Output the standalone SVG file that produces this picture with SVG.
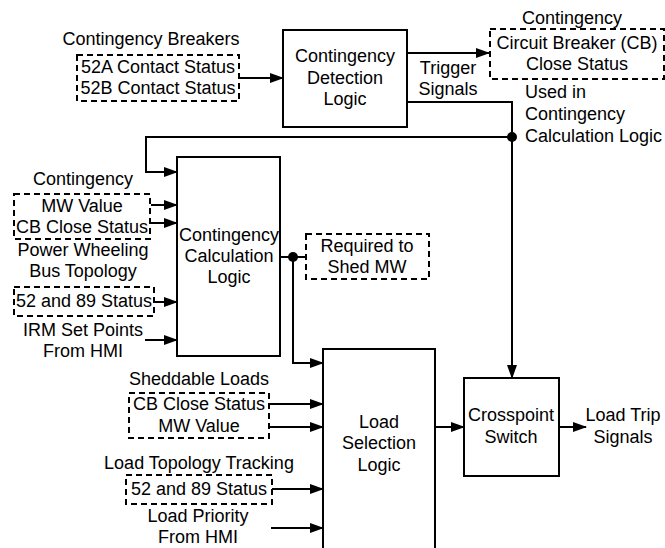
<svg xmlns="http://www.w3.org/2000/svg" width="665" height="548" viewBox="0 0 665 548">
<defs>
<style>
text{font-family:"Liberation Sans",Arial,sans-serif;font-size:18px;fill:#000}
.m{text-anchor:middle}
.box{fill:#fff;stroke:#000;stroke-width:2}
.dash{fill:none;stroke:#000;stroke-width:2;stroke-dasharray:6,4}
.ln{fill:none;stroke:#000;stroke-width:2}
.ar{fill:none;stroke:#000;stroke-width:2;marker-end:url(#ah)}
</style>
<marker id="ah" markerUnits="userSpaceOnUse" markerWidth="14" markerHeight="10" refX="13" refY="5" orient="auto">
<path d="M0,0 L14,5 L0,10 z" fill="#000"/>
</marker>
</defs>
<rect width="665" height="548" fill="#fff"/>
<g id="connectors">
<path class="ar" d="M240,78 H283"/>
<path class="ar" d="M407,53 H489"/>
<path class="ln" d="M407,102 H512 V137"/>
<path class="ar" d="M512,137 V378"/>
<path class="ar" d="M512,137 H146 V172 H177"/>
<circle cx="512" cy="137" r="5" fill="#000"/>
<path class="ar" d="M151,205 H177"/>
<path class="ar" d="M151,223 H177"/>
<path class="ar" d="M155,302 H177"/>
<path class="ar" d="M145,340 H177"/>
<path class="ln" d="M280,257 H306"/>
<path class="ar" d="M293,257 V363 H323"/>
<circle cx="293" cy="257" r="5" fill="#000"/>
<path class="ar" d="M270,404 H323"/>
<path class="ar" d="M270,427 H323"/>
<path class="ar" d="M272,489 H323"/>
<path class="ar" d="M271,528 H323"/>
<path class="ar" d="M435,427 H464"/>
<path class="ar" d="M559,427 H586"/>
</g>
<g id="contingency-breakers">
<text class="m" x="151" y="45">Contingency Breakers</text>
<rect class="dash" x="77" y="55" width="162" height="46"/>
<text class="m" x="158" y="73">52A Contact Status</text>
<text class="m" x="158" y="94">52B Contact Status</text>
</g>
<g id="detection-logic">
<rect class="box" x="283" y="30" width="124" height="97"/>
<text class="m" x="345" y="62">Contingency</text>
<text class="m" x="345" y="84">Detection</text>
<text class="m" x="345" y="105">Logic</text>
</g>
<g id="trigger-label">
<text class="m" x="448" y="74">Trigger</text>
<text class="m" x="448" y="95">Signals</text>
</g>
<g id="cb-close-status">
<text class="m" x="572" y="24">Contingency</text>
<rect class="dash" x="490" y="29" width="174" height="50"/>
<text class="m" x="577" y="49">Circuit Breaker (CB)</text>
<text class="m" x="577" y="70">Close Status</text>
</g>
<g id="used-in-label">
<text x="525" y="98">Used in</text>
<text x="525" y="120">Contingency</text>
<text x="525" y="142">Calculation Logic</text>
</g>
<g id="calculation-logic">
<rect class="box" x="177" y="157" width="103" height="199"/>
<text class="m" x="229" y="241">Contingency</text>
<text class="m" x="229" y="262">Calculation</text>
<text class="m" x="229" y="283">Logic</text>
</g>
<g id="contingency-inputs">
<text class="m" x="83" y="185">Contingency</text>
<rect class="dash" x="14" y="194" width="136" height="45"/>
<text class="m" x="82" y="212">MW Value</text>
<text class="m" x="82" y="233">CB Close Status</text>
</g>
<g id="power-wheeling">
<text class="m" x="83" y="256">Power Wheeling</text>
<text class="m" x="83" y="277">Bus Topology</text>
<rect class="dash" x="14" y="287" width="140" height="29"/>
<text class="m" x="84" y="307">52 and 89 Status</text>
</g>
<g id="irm-set-points">
<text class="m" x="83" y="336">IRM Set Points</text>
<text class="m" x="83" y="357">From HMI</text>
</g>
<g id="required-shed">
<rect class="dash" x="306" y="234" width="123" height="45"/>
<text class="m" x="367" y="252">Required to</text>
<text class="m" x="367" y="273">Shed MW</text>
</g>
<g id="load-selection-logic">
<rect class="box" x="323" y="349" width="112" height="215"/>
<text class="m" x="379" y="428">Load</text>
<text class="m" x="379" y="449">Selection</text>
<text class="m" x="379" y="471">Logic</text>
</g>
<g id="sheddable-loads">
<text class="m" x="199" y="385">Sheddable Loads</text>
<rect class="dash" x="129" y="393" width="140" height="45"/>
<text class="m" x="199" y="410">CB Close Status</text>
<text class="m" x="199" y="432">MW Value</text>
</g>
<g id="load-topology">
<text class="m" x="199" y="469">Load Topology Tracking</text>
<rect class="dash" x="126" y="475" width="146" height="29"/>
<text class="m" x="199" y="495">52 and 89 Status</text>
</g>
<g id="load-priority">
<text class="m" x="198" y="522">Load Priority</text>
<text class="m" x="198" y="543">From HMI</text>
</g>
<g id="crosspoint-switch">
<rect class="box" x="464" y="378" width="95" height="98"/>
<text class="m" x="511" y="421">Crosspoint</text>
<text class="m" x="511" y="443">Switch</text>
</g>
<g id="load-trip">
<text class="m" x="623" y="421">Load Trip</text>
<text class="m" x="623" y="443">Signals</text>
</g>
</svg>
